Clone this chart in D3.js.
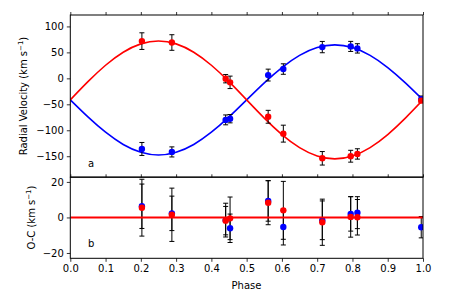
<!DOCTYPE html>
<html><head><meta charset="utf-8">
<script src="https://cdn.jsdelivr.net/npm/d3@7"></script>
<style>body{margin:0;background:#fff}svg{display:block;font-family:"DejaVu Sans",sans-serif}</style>
</head><body>
<svg id="c" width="449" height="299"></svg>
<script>
// observed phases
const phase = [0.203, 0.288, 0.4405, 0.453, 0.561, 0.604, 0.7145, 0.795, 0.814, 0.995];
// primary (red) radial velocities & errors
const rvA  = [71.7, 69, -0.7, -7.7, -74, -106.5, -154, -150, -145.6, -43];
const errA = [16, 15, 8, 12, 12.4, 16.3, 13, 11.4, 10, 2];
// secondary (blue) radial velocities & errors
const rvB  = [-136, -141.7, -80, -77.7, 6.3, 17.9, 60.2, 61.5, 57.7, -40];
const errB = [12.5, 9.7, 9.5, 8, 11.4, 10.1, 10.9, 9.7, 9, 6];
// residuals O-C (null = not shown)
const resA = [5.5, 1.5, -1.8, -0.5, 8.3, 4.0, -2.7, 0.3, 0.1, null];
const resB = [6.3, 2.3, -1.5, -6.1, 9.3, -5.4, -1.6, 2.0, 2.7, -5.5];
// fitted orbit curves
const curvePhase = [0,0.05,0.1,0.15,0.2,0.25,0.3,0.35,0.4,0.45,0.5,0.55,0.6,0.65,0.7,0.75,0.8,0.85,0.9,0.95,1];
const curveA = [-41.5,-6.4,25.2,50.3,66.4,72.0,66.4,50.3,25.2,-6.4,-41.5,-76.6,-108.2,-133.3,-149.4,-155.0,-149.4,-133.3,-108.2,-76.6,-41.5];
const curveB = [-41.5,-74.3,-103.8,-127.3,-142.3,-147.5,-142.3,-127.3,-103.8,-74.3,-41.5,-8.7,20.8,44.3,59.3,64.5,59.3,44.3,20.8,-8.7,-41.5];
// ticks
const xTicks = [0,0.1,0.2,0.3,0.4,0.5,0.6,0.7,0.8,0.9,1.0];
const rvTicks = [100,50,0,-50,-100,-150];
const ocTicks = [20,0,-20];

const svg = d3.select("#c");
const L = 70.3, R = 423;
const x = d3.scaleLinear().domain([0,1]).range([L,R]);
const yT = d3.scaleLinear().domain([-190,122]).range([177,15]);
const yB = d3.scaleLinear().domain([-23,22.6]).range([258.3,177.3]);
const RED = "#ff0000", BLUE = "#0000ff";
const fmt = v => (v<0 ? "\u2212"+Math.abs(v) : String(v));

const defs = svg.append("defs");
defs.append("clipPath").attr("id","ct").append("rect").attr("x",L).attr("y",15).attr("width",R-L).attr("height",162);
defs.append("clipPath").attr("id","cb").append("rect").attr("x",L).attr("y",177.3).attr("width",R-L).attr("height",81);

function panel(y, ticksY, topTicks, bottomLabels){
  const g = svg.append("g");
  const ay = g.append("g").attr("transform",`translate(${L},0)`)
    .call(d3.axisLeft(y).tickValues(ticksY).tickFormat(fmt).tickSize(3.5).tickPadding(3));
  ay.select(".domain").remove();
  ay.selectAll("text").attr("font-size",10).attr("font-family","DejaVu Sans").attr("fill","#000");
  ay.selectAll("line").attr("stroke","#000").attr("stroke-width",0.8);
  const [y0,y1] = y.range();
  if(topTicks){
    const at = g.append("g").attr("transform",`translate(0,${y1})`)
      .call(d3.axisTop(x).tickValues(xTicks).tickFormat("").tickSize(3));
    at.select(".domain").remove();
    at.selectAll("line").attr("stroke","#000").attr("stroke-width",0.8);
  }
  if(bottomLabels){
    const ab = g.append("g").attr("transform",`translate(0,${y0})`)
      .call(d3.axisBottom(x).tickValues(xTicks).tickFormat(d3.format(".1f")).tickSize(3.5).tickPadding(3));
    ab.select(".domain").remove();
    ab.selectAll("text").attr("font-size",10).attr("font-family","DejaVu Sans").attr("fill","#000");
    ab.selectAll("line").attr("stroke","#000").attr("stroke-width",0.8);
  }
  return g;
}

panel(yT, rvTicks, true, false);
panel(yB, ocTicks, true, true);

// top panel content
const cT = svg.append("g").attr("clip-path","url(#ct)");
const line = y => d3.line().x((d,i)=>x(curvePhase[i])).y(d=>y(d)).curve(d3.curveNatural);
cT.append("path").attr("d",line(yT)(curveB)).attr("fill","none").attr("stroke",BLUE).attr("stroke-width",1.6);
cT.append("path").attr("d",line(yT)(curveA)).attr("fill","none").attr("stroke",RED).attr("stroke-width",1.6);

function errbars(g, y, vals, errs){
  const cap = 2.5;
  phase.forEach((p,i)=>{
    if(vals[i]===null) return;
    const cx = x(p), t = y(vals[i]+errs[i]), b = y(vals[i]-errs[i]);
    g.append("line").attr("x1",cx).attr("x2",cx).attr("y1",t).attr("y2",b).attr("stroke","#000").attr("stroke-width",1);
    g.append("line").attr("x1",cx-cap).attr("x2",cx+cap).attr("y1",t).attr("y2",t).attr("stroke","#000").attr("stroke-width",1);
    g.append("line").attr("x1",cx-cap).attr("x2",cx+cap).attr("y1",b).attr("y2",b).attr("stroke","#000").attr("stroke-width",1);
  });
}
function dots(g, y, vals, col){
  const pts = vals.map((v,i)=>({p:phase[i], v})).filter(d=>d.v!==null);
  g.selectAll(null).data(pts).enter().append("circle")
    .attr("cx",d=>x(d.p)).attr("cy",d=>y(d.v)).attr("r",3.2).attr("fill",col);
}
errbars(cT, yT, rvB, errB);
errbars(cT, yT, rvA, errA);
dots(cT, yT, rvB, BLUE);
dots(cT, yT, rvA, RED);

// bottom panel content
const cB = svg.append("g").attr("clip-path","url(#cb)");
errbars(cB, yB, resB, errB);
errbars(cB, yB, resA, errA);
dots(cB, yB, resB, BLUE);
dots(cB, yB, resA, RED);
cB.append("line").attr("x1",x(0)).attr("x2",x(1)).attr("y1",yB(0)).attr("y2",yB(0)).attr("stroke",RED).attr("stroke-width",2);

// frames
svg.append("rect").attr("x",L).attr("y",15).attr("width",R-L).attr("height",162).attr("fill","none").attr("stroke","#000").attr("stroke-width",1);
svg.append("rect").attr("x",L).attr("y",177.3).attr("width",R-L).attr("height",81).attr("fill","none").attr("stroke","#000").attr("stroke-width",1);

// labels
function ylab(xp, yp, main){
  const t = svg.append("text").attr("transform",`translate(${xp},${yp}) rotate(-90)`)
    .attr("text-anchor","middle").attr("font-size",10).attr("fill","#000");
  t.append("tspan").text(main);
  t.append("tspan").attr("font-size",7).attr("dy",-4).text("\u22121");
  t.append("tspan").attr("dy",4).text(")");
}
ylab(27, 96, "Radial Velocity (km s");
ylab(35, 217.5, "O-C (km s");
svg.append("text").attr("x",246.5).attr("y",288.5).attr("text-anchor","middle").attr("font-size",10).text("Phase");
svg.append("text").attr("x",88).attr("y",167).attr("font-size",10).text("a");
svg.append("text").attr("x",88).attr("y",247).attr("font-size",10).text("b");
</script>
</body></html>
